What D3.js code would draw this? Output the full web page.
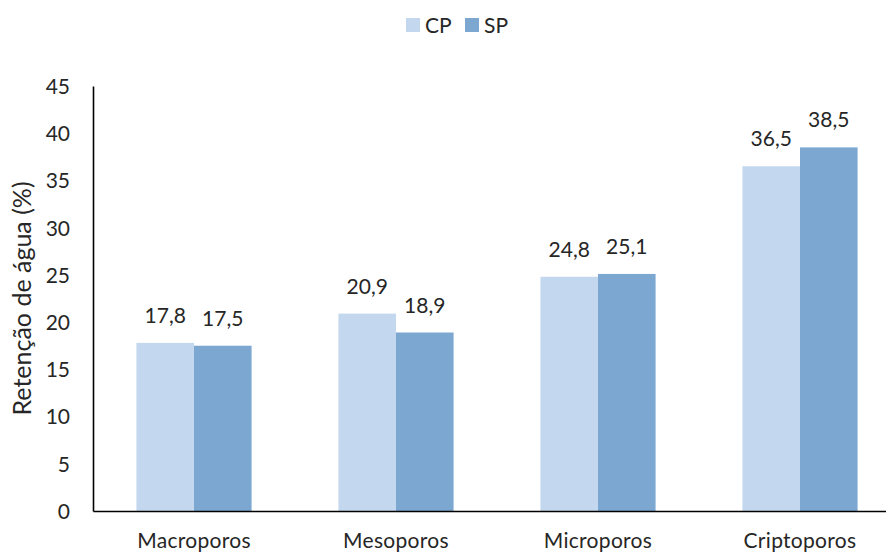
<!DOCTYPE html>
<html>
<head>
<meta charset="utf-8">
<script src="https://cdn.jsdelivr.net/npm/d3@7"></script>
<style>
  html, body { margin: 0; padding: 0; background: #ffffff; }
  svg text { font-family: Lato, "Open Sans", sans-serif; fill: #262626; }
</style>
</head>
<body>
<svg id="chart" width="886" height="554"></svg>
<script>
// Water retention by pore class, with (CP) and without (SP) treatment
const categories = ["Macroporos", "Mesoporos", "Microporos", "Criptoporos"];
const seriesNames = ["CP", "SP"];
const cpValues = [17.8, 20.9, 24.8, 36.5];
const spValues = [17.5, 18.9, 25.1, 38.5];
const yTicks = [0, 5, 10, 15, 20, 25, 30, 35, 40, 45];
const yTitle = "Retenção de água (%)";
const colors = ["#c3d8ee", "#7ba7d1"];

const svg = d3.select("#chart");
const margin = { left: 93, right: -15, top: 86, bottom: 43 };
const W = 886, H = 554;

const x = d3.scaleBand()
  .domain(categories)
  .range([margin.left, W - margin.right])
  .paddingInner(0.43)
  .paddingOuter(0.215);

const xs = d3.scaleBand()
  .domain(seriesNames)
  .range([0, x.bandwidth()]);

const y = d3.scaleLinear()
  .domain([0, 45])
  .range([H - margin.bottom, margin.top]);

const rows = categories.map((c, i) => ({ cat: c, vals: [cpValues[i], spValues[i]] }));

// bars
const groups = svg.append("g").selectAll("g")
  .data(rows).join("g")
  .attr("transform", d => `translate(${x(d.cat)},0)`);

groups.selectAll("rect")
  .data(d => d.vals.map((v, j) => ({ s: seriesNames[j], v, j })))
  .join("rect")
  .attr("x", d => xs(d.s))
  .attr("width", xs.bandwidth())
  .attr("y", d => y(d.v))
  .attr("height", d => y(0) - y(d.v))
  .attr("fill", d => colors[d.j]);

// value labels
groups.selectAll("text")
  .data(d => d.vals.map((v, j) => ({ s: seriesNames[j], v, j })))
  .join("text")
  .attr("x", d => xs(d.s) + xs.bandwidth() / 2)
  .attr("y", d => y(d.v) - 20)
  .attr("text-anchor", "middle")
  .style("font-size", "21px")
  .text(d => d.v.toFixed(1).replace(".", ","));

// y axis
const yAxis = d3.axisLeft(y).tickValues(yTicks).tickSize(0).tickPadding(23);
const gy = svg.append("g")
  .attr("transform", `translate(${margin.left},0)`)
  .call(yAxis);
gy.select(".domain").attr("stroke", "#000").attr("stroke-width", 1.6);
gy.selectAll(".tick text")
  .style("font-size", "21px")
  .attr("dy", "0.35em");

// x axis
const xAxis = d3.axisBottom(x).tickSize(0).tickPadding(22);
const gx = svg.append("g")
  .attr("transform", `translate(0,${y(0)})`)
  .call(xAxis);
gx.select(".domain").attr("stroke", "#000").attr("stroke-width", 1.6);
gx.selectAll(".tick text")
  .style("font-size", "21px")
  .style("letter-spacing", "0.3px");

// y axis title
svg.append("text")
  .attr("transform", `translate(31,${(y(0) + y(45)) / 2}) rotate(-90)`)
  .attr("text-anchor", "middle")
  .style("font-size", "25px")
  .text(yTitle);

// legend
const legend = svg.append("g").attr("transform", "translate(406,18)");
const items = legend.selectAll("g")
  .data(seriesNames).join("g")
  .attr("transform", (d, i) => `translate(${i * 59},0)`);
items.append("rect")
  .attr("width", 14).attr("height", 14)
  .attr("fill", (d, i) => colors[i]);
items.append("text")
  .attr("x", 19).attr("y", 15)
  .style("font-size", "21px")
  .text(d => d);
</script>
</body>
</html>
